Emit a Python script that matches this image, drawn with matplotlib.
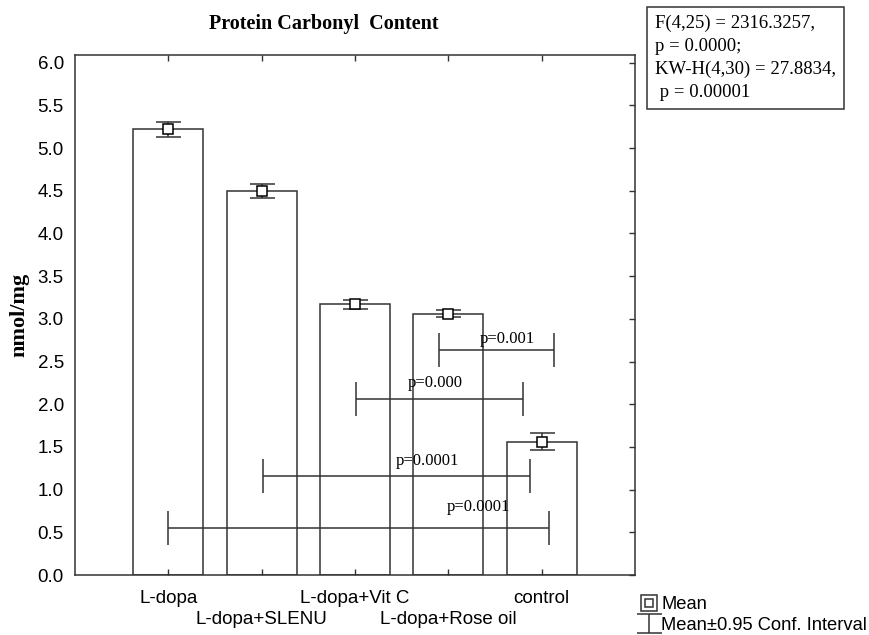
import matplotlib.pyplot as plt
from matplotlib.lines import Line2D

# group means and 95% CI half widths (nmol/mg)
groups = ['L-dopa', 'L-dopa+SLENU', 'L-dopa+Vit C', 'L-dopa+Rose oil', 'control']
means = [5.22, 4.50, 3.17, 3.06, 1.56]
ci = [0.09, 0.08, 0.05, 0.04, 0.10]

# pairwise comparison brackets
cmp_lo = [2.90, 2.01, 1.01, 0.00]
cmp_hi = [4.13, 3.80, 3.88, 4.08]
cmp_y = [2.63, 2.06, 1.16, 0.55]
cmp_txt = ['p=0.001', 'p=0.000', 'p=0.0001', 'p=0.0001']
cmp_tx = [3.34, 2.57, 2.44, 2.98]
cmp_ty = [2.76, 2.25, 1.34, 0.80]

stats_txt = "F(4,25) = 2316.3257,\np = 0.0000;\nKW-H(4,30) = 27.8834,\n p = 0.00001"

serif = 'Liberation Serif'
sans = 'Liberation Sans'
lc = '#333333'

fig = plt.figure(figsize=(8.7, 6.35), dpi=100)
ax = fig.add_axes([75 / 870, 60 / 635, 560 / 870, 520 / 635])

x = list(range(len(groups)))
ax.bar(x, means, width=0.75, color='white', edgecolor=lc, linewidth=1.1, zorder=1)
eb = ax.errorbar(x, means, yerr=ci, fmt='none', ecolor=lc, elinewidth=1.1,
                 capsize=9, capthick=1.1, zorder=3)
ax.plot(x, means, 's', ms=7, mfc='white', mec='black', mew=1.1, zorder=4)

# comparison brackets
mid = [(a + b) / 2 for a, b in zip(cmp_lo, cmp_hi)]
half = [(b - a) / 2 for a, b in zip(cmp_lo, cmp_hi)]
ax.errorbar(mid, cmp_y, xerr=half, fmt='none', ecolor=lc, elinewidth=1.1,
            capsize=12, capthick=1.1, zorder=2)
for tx, ty, t in zip(cmp_tx, cmp_ty, cmp_txt):
    ax.text(tx, ty, t, family=serif, fontsize=12, ha='left', va='center', zorder=5)

ax.set_xlim(-1, 5)
ax.set_ylim(0, 6.09)
ax.set_yticks([i * 0.5 for i in range(13)])
ax.set_yticklabels([f'{i * 0.5:.1f}' for i in range(13)])
# staggered category labels: even ones as major ticks, odd ones as minor ticks
ax.set_xticks(x[0::2])
ax.set_xticklabels(groups[0::2])
ax.set_xticks(x[1::2], minor=True)
ax.set_xticklabels(groups[1::2], minor=True)
ax.tick_params(axis='both', which='both', direction='in', length=4, width=1,
               color=lc, labelsize=13.5, top=True, right=True)
ax.tick_params(axis='y', left=False, pad=8)
ax.tick_params(axis='x', which='major', pad=11)
ax.tick_params(axis='x', which='minor', pad=26)
for lab in (ax.get_xticklabels() + ax.get_xticklabels(minor=True)
            + ax.get_yticklabels()):
    lab.set_family(sans)
for s in ax.spines.values():
    s.set_color(lc)
    s.set_linewidth(1.1)

ax.set_ylabel('nmol/mg', family=serif, fontweight='bold', fontsize=16, labelpad=6)
fig.text(324 / 870, 1 - 24 / 635, 'Protein Carbonyl  Content', family=serif,
         fontweight='bold', fontsize=14.5, ha='center', va='center')

fig.text(655 / 870, 1 - 58 / 635, stats_txt, family=serif, fontsize=13.5,
         ha='left', va='center', linespacing=1.46,
         bbox=dict(boxstyle='square,pad=0.42', fc='white', ec=lc, lw=1.1))

# legend
mean_h = (Line2D([], [], ls='none', marker='s', ms=11, mfc='white', mec=lc, mew=1.1),
          Line2D([], [], ls='none', marker='s', ms=6, mfc='white', mec=lc, mew=1.1))
fig.legend([mean_h, eb], ['Mean', 'Mean\u00b10.95 Conf. Interval'],
           loc='upper left', bbox_to_anchor=(642 / 870, 1 - 596 / 635),
           frameon=False, handlelength=0.75, handletextpad=0.3, labelspacing=0.22,
           borderpad=0, borderaxespad=0, prop={'family': sans, 'size': 13.2})

fig.savefig('out.png', dpi=100)
